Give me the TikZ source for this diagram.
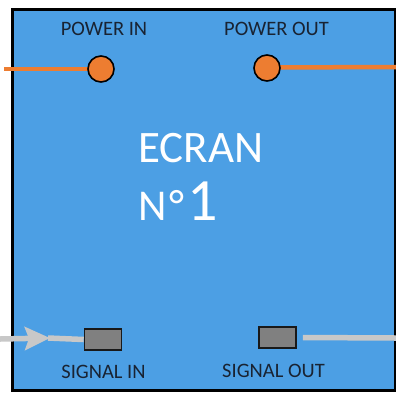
\documentclass[tikz,border=0pt]{standalone}
\usepackage{fontspec}
\setmainfont{Carlito}
\usetikzlibrary{arrows.meta}
\definecolor{boxblue}{RGB}{76,159,228}
\definecolor{pworange}{RGB}{237,125,49}
\definecolor{sigfill}{RGB}{128,128,128}
\definecolor{sigline}{RGB}{200,200,200}
\definecolor{labcol}{RGB}{25,35,50}
\tikzset{
  lab/.style={anchor=base, inner sep=0pt, text=labcol, font=\fontsize{20.5}{22}\selectfont},
  pin/.style={circle, draw=black, line width=1.6pt, fill=pworange, minimum size=26pt, inner sep=0pt},
  sig/.style={rectangle, draw=black!90, line width=1.6pt, fill=sigfill, minimum width=37pt, minimum height=21pt, inner sep=0pt},
  pwline/.style={draw=pworange, line width=4.5pt},
  sgline/.style={draw=sigline, line width=5.5pt},
  title/.style={anchor=base west, inner sep=0pt, text=white}
}
\begin{document}
\begin{tikzpicture}[x=1pt,y=-1pt]
\useasboundingbox (0,0) rectangle (396,392);
\node[draw=black, line width=2.5pt, fill=boxblue, minimum width=383pt, minimum height=381pt, inner sep=0pt, anchor=north west] (box) at (11,8) {};
% labels
\node[lab] (pinlab) at (104,35) {POWER IN};
\node[lab] (poutlab) at (276.5,35) {POWER OUT};
\node[lab] (sinlab) at (103.5,378) {SIGNAL IN};
\node[lab] (soutlab) at (273.5,377) {SIGNAL OUT};
% title
\node[title, font=\fontsize{45}{48}\selectfont] (ecran) at (138,162) {ECRAN};
\node[title, font=\fontsize{44}{48}\selectfont] (num) at (138,220) {N\hspace{3pt}°\hspace{3pt}{\fontsize{60}{64}\selectfont 1}};
% power
\coordinate (pwinend) at (4,69);
\coordinate (pwoutend) at (396,67);
\draw[pwline] (pwinend) -- (101,69);
\draw[pwline] (267,67.5) -- (pwoutend);
\node[pin] (pin) at (101,69) {};
\node[pin] (pout) at (267,68) {};
% signal
\node[sig] (sin) at (103,339.5) {};
\node[sig] (sout) at (277.5,337.5) {};
\coordinate (sgstart) at (0,339);
\coordinate (sgtip) at (50,338);
\coordinate (sgend) at (396,338);
\draw[sgline] ([xshift=-2pt]sgtip) -- (sin.west);
\draw[sgline, -{Stealth[length=25pt,width=23pt,inset=4pt]}] (sgstart) -- (sgtip);
\draw[sgline] ([xshift=6pt]sout.east) -- (sgend);
\end{tikzpicture}
\end{document}
